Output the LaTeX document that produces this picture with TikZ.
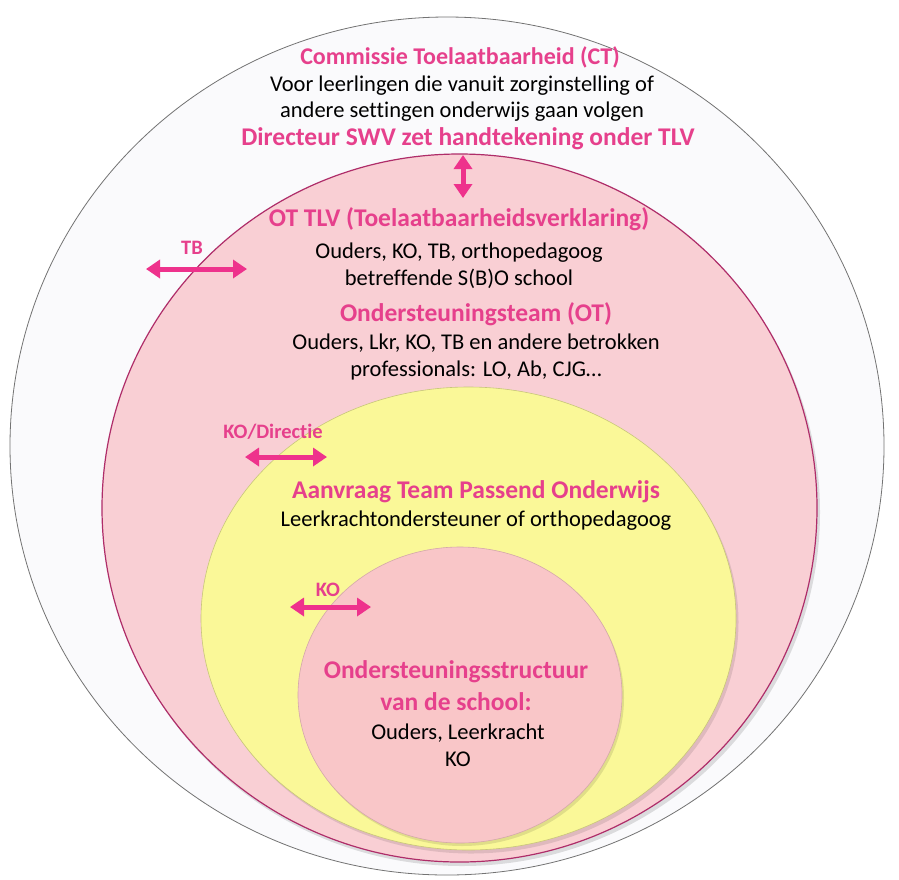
\documentclass[tikz,border=0pt]{standalone}
\usepackage{fontspec}
\setmainfont{Carlito}[Ligatures=NoCommon]
\usetikzlibrary{arrows.meta}
\definecolor{ctpink}{RGB}{230,64,140}
\definecolor{arrowpink}{RGB}{238,50,140}
\definecolor{otfill}{RGB}{249,207,212}
\definecolor{otrim}{RGB}{175,45,105}
\definecolor{tpofill}{RGB}{250,248,152}
\definecolor{schoolfill}{RGB}{249,198,200}
\definecolor{ctfill}{RGB}{250,250,252}
\begin{document}
\begin{tikzpicture}[x=1pt,y=-1pt,
    head/.style ={font=\bfseries\fontsize{25.5}{30}\selectfont, text=ctpink, align=center, inner sep=0pt},
    body/.style ={font=\fontsize{22.5}{27}\selectfont, align=center, inner sep=0pt},
    tag/.style  ={font=\bfseries\fontsize{20.5}{22}\selectfont, text=ctpink, inner sep=0pt},
    twoway/.style={line width=5pt, draw=arrowpink, {Triangle[length=14pt,width=18pt]}-{Triangle[length=14pt,width=18pt]}}]
   \useasboundingbox (0,0) rectangle (899,879);
   \fill[white] (0,0) rectangle (899,879);
   % rings
   \filldraw[fill=ctfill, draw=black!55, line width=0.8pt] (447,446) ellipse (437 and 429);
   \fill[black, opacity=0.12] (462,512) ellipse (358 and 354);
   \filldraw[fill=otfill, draw=otrim, line width=1.2pt] (459.5,508) ellipse (357.5 and 354);
   \fill[black, opacity=0.10] (471,622) ellipse (267.5 and 231.5);
   \filldraw[fill=tpofill, draw=tpofill!80!black, line width=0.6pt] (468.5,618.5) ellipse (267.5 and 231.5);
   \fill[black, opacity=0.10] (462,698) ellipse (162 and 148);
   \filldraw[fill=schoolfill, draw=schoolfill!85!black, line width=0.6pt] (460,695) ellipse (162 and 148);
   % texts
   \node[head, font=\bfseries\fontsize{24}{28}\selectfont] (ct) at (460,57) {Commissie Toelaatbaarheid (CT)};
   \node[body, font=\fontsize{22.5}{26}\selectfont] (ctinfo) at (462,99) {Voor leerlingen die vanuit zorginstelling of\\andere settingen onderwijs gaan volgen};
   \node[head] (swv) at (468,139) {Directeur SWV zet handtekening onder TLV};
   \node[head] (tlv) at (459,219) {OT TLV (Toelaatbaarheidsverklaring)};
   \node[body] (tlvinfo) at (459,265.5) {Ouders, KO, TB, orthopedagoog\\betreffende S(B)O school};
   \node[head] (ot) at (476,314) {Ondersteuningsteam (OT)};
   \node[body] (otinfo) at (476,356.5) {Ouders, Lkr, KO, TB en andere betrokken\\professionals: LO, Ab, CJG\dots};
   \node[head] (tpo) at (476,492) {Aanvraag Team Passend Onderwijs};
   \node[body] (tpoinfo) at (476,521) {Leerkrachtondersteuner of orthopedagoog};
   \node[head, font=\bfseries\fontsize{25.5}{32}\selectfont] (school) at (456,686) {Ondersteuningsstructuur\\van de school:};
   \node[body] (schoolinfo) at (458,745.5) {Ouders, Leerkracht\\KO};
   % two-way arrows
   \coordinate (swvend) at (463,155);
   \coordinate (tlvend) at (463,198);
   \draw[twoway] (swvend) -- (tlvend);
   \node[tag] (tbtag) at (192,248) {TB};
   \coordinate (tbleft) at (146,269);
   \coordinate (tbright) at (247,269);
   \draw[twoway] (tbleft) -- (tbright);
   \node[tag] (kodirtag) at (273,432) {KO/Directie};
   \coordinate (kodirleft) at (245,457);
   \coordinate (kodirright) at (327,457);
   \draw[twoway] (kodirleft) -- (kodirright);
   \node[tag] (kotag) at (328,590) {KO};
   \coordinate (koleft) at (290,607);
   \coordinate (koright) at (371,607);
   \draw[twoway] (koleft) -- (koright);
\end{tikzpicture}
\end{document}
